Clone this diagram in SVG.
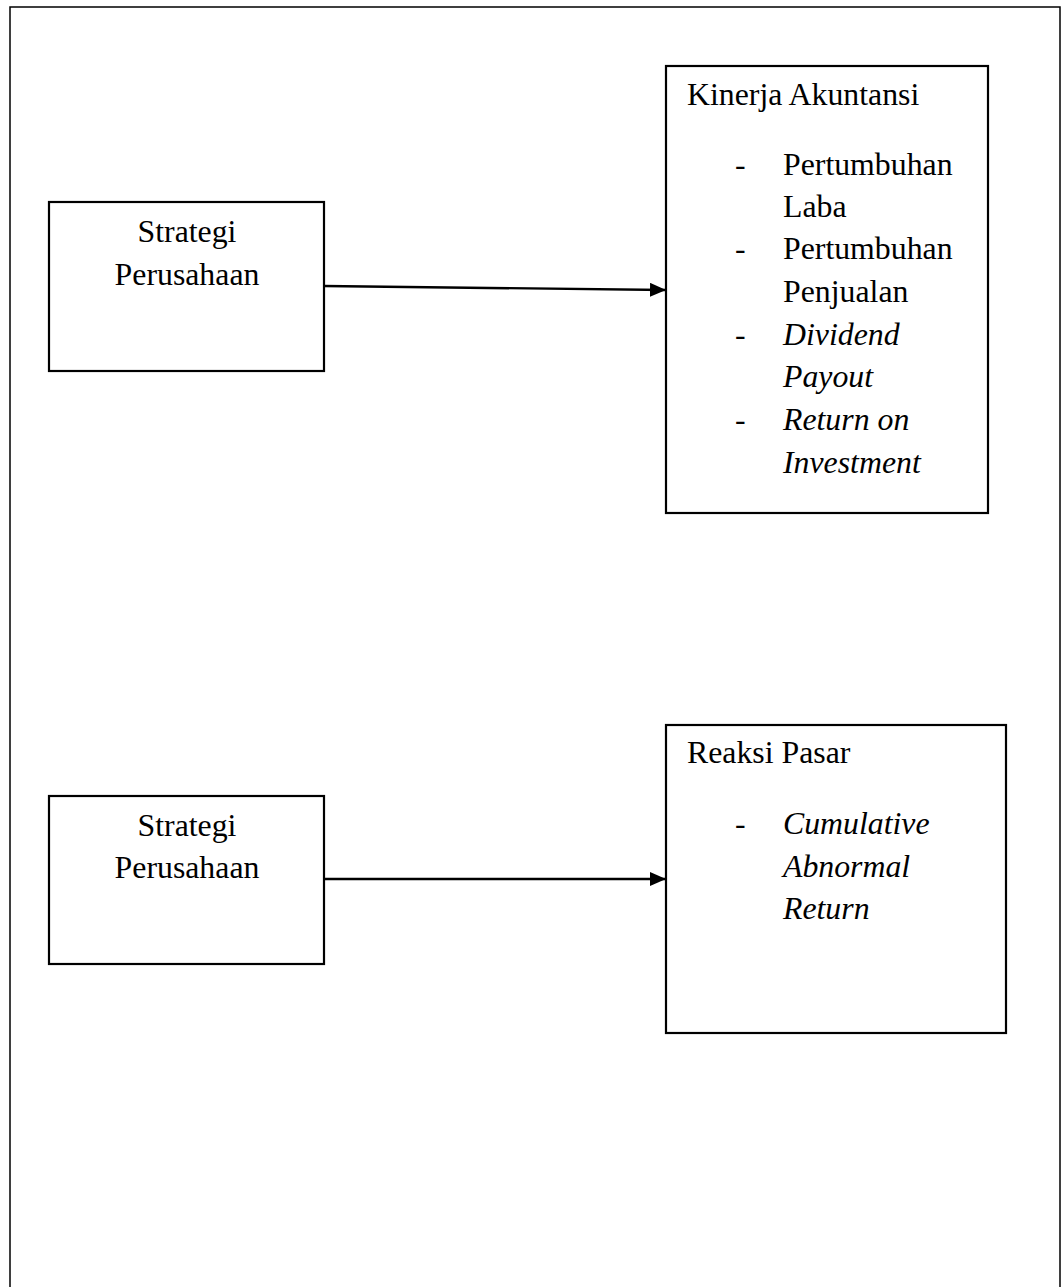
<svg xmlns="http://www.w3.org/2000/svg" width="1061" height="1287" viewBox="0 0 1061 1287">
<style>
.box{fill:#fff;stroke:#000;stroke-width:2.2}
.t{font-family:"Liberation Serif","Times New Roman",serif;font-size:31.8px;fill:#000}
.i{font-style:italic}
.c{text-anchor:middle}
.ln{stroke:#000;stroke-width:2.4;fill:none}
</style>
<defs>
<marker id="ah" markerWidth="16" markerHeight="14" refX="16" refY="7" orient="auto" markerUnits="userSpaceOnUse">
<path d="M0,0 L16,7 L0,14 Z" fill="#000"/>
</marker>
</defs>
<rect x="0" y="0" width="1061" height="1287" fill="#fff"/>
<path d="M10,1287 L10,7 L1060,7 L1060,1287" fill="none" stroke="#000" stroke-width="1.5"/>
<g id="connectors">
<line class="ln" x1="324" y1="286" x2="666" y2="290" marker-end="url(#ah)"/>
<line class="ln" x1="324" y1="879" x2="666" y2="879" marker-end="url(#ah)"/>
</g>
<g id="strategi1">
<rect class="box" x="49" y="202" width="275" height="169"/>
<text class="t c" x="187" y="242">Strategi</text>
<text class="t c" x="187" y="285">Perusahaan</text>
</g>
<g id="kinerja">
<rect class="box" x="666" y="66" width="322" height="447"/>
<text class="t" x="687" y="105">Kinerja Akuntansi</text>
<text class="t" x="735" y="175">-</text>
<text class="t" x="783" y="175">Pertumbuhan</text>
<text class="t" x="783" y="217">Laba</text>
<text class="t" x="735" y="259">-</text>
<text class="t" x="783" y="259">Pertumbuhan</text>
<text class="t" x="783" y="302">Penjualan</text>
<text class="t" x="735" y="345">-</text>
<text class="t i" x="783" y="345">Dividend</text>
<text class="t i" x="783" y="387">Payout</text>
<text class="t" x="735" y="430">-</text>
<text class="t i" x="783" y="430">Return on</text>
<text class="t i" x="783" y="473">Investment</text>
</g>
<g id="strategi2">
<rect class="box" x="49" y="796" width="275" height="168"/>
<text class="t c" x="187" y="836">Strategi</text>
<text class="t c" x="187" y="878">Perusahaan</text>
</g>
<g id="reaksi">
<rect class="box" x="666" y="725" width="340" height="308"/>
<text class="t" x="687" y="763">Reaksi Pasar</text>
<text class="t" x="735" y="834">-</text>
<text class="t i" x="783" y="834">Cumulative</text>
<text class="t i" x="783" y="877">Abnormal</text>
<text class="t i" x="783" y="919">Return</text>
</g>
</svg>
